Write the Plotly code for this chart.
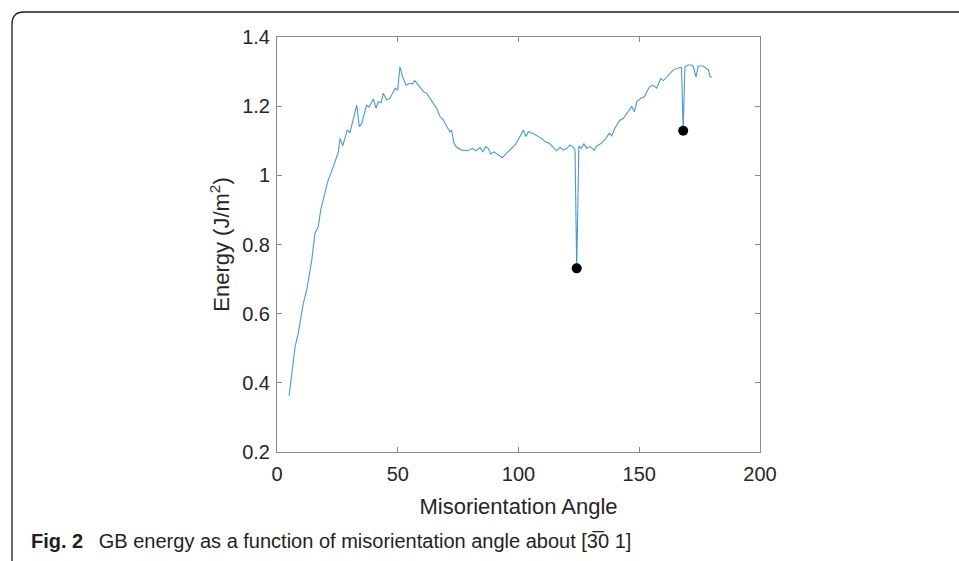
import plotly.graph_objects as go

# Data
angle = [5.0, 7.5, 8.8, 10.9, 12.3, 14.4, 15.7, 17.1, 18.1, 19.2, 21.2, 23.3, 25.4, 26.1, 27.2,
         29.1, 30.2, 33.0, 34.1, 35.1, 37.1, 38.1, 39.9, 41.0, 41.9, 43.1, 44.0, 45.4, 46.8,
         48.9, 50.0, 50.9, 52.0, 53.4, 55.1, 56.0, 57.1, 58.5, 60.6, 62.0, 64.7, 66.1, 67.5,
         68.9, 70.3, 71.6, 72.3, 73.3, 74.4, 76.5, 79.2, 81.0, 82.4, 84.1, 85.2, 86.5, 87.5,
         88.5, 89.9, 91.6, 93.3, 95.1, 98.6, 100.6, 102.0, 103.1, 104.1, 106.2, 108.2, 109.6,
         111.0, 112.8, 114.4, 115.8, 117.2, 118.6, 120.0, 121.3, 122.7, 123.4, 124.1, 125.0,
         125.9, 127.1, 128.2, 129.6, 131.3, 132.4, 134.4, 136.2, 137.6, 138.6, 139.9, 141.8,
         143.4, 144.8, 146.9, 148.0, 149.0, 150.7, 152.1, 154.2, 155.6, 157.2, 158.9, 160.0,
         162.0, 164.1, 166.9, 167.5, 168.2, 168.9, 170.3, 171.7, 172.4, 173.5, 174.4, 176.5,
         178.6, 179.3, 180.2]
energy = [0.362, 0.505, 0.543, 0.630, 0.668, 0.755, 0.832, 0.852, 0.900, 0.929, 0.987, 1.025,
          1.068, 1.107, 1.085, 1.131, 1.123, 1.203, 1.141, 1.150, 1.203, 1.197, 1.221, 1.194,
          1.213, 1.210, 1.237, 1.218, 1.223, 1.252, 1.247, 1.314, 1.285, 1.261, 1.266, 1.264,
          1.274, 1.261, 1.242, 1.237, 1.208, 1.194, 1.170, 1.160, 1.141, 1.126, 1.131, 1.093,
          1.081, 1.073, 1.071, 1.078, 1.071, 1.080, 1.068, 1.083, 1.078, 1.062, 1.068, 1.059,
          1.051, 1.064, 1.088, 1.112, 1.131, 1.112, 1.126, 1.120, 1.112, 1.107, 1.097, 1.093,
          1.081, 1.071, 1.081, 1.073, 1.078, 1.088, 1.081, 1.073, 0.731, 1.085, 1.078, 1.091,
          1.078, 1.083, 1.073, 1.085, 1.093, 1.107, 1.122, 1.114, 1.136, 1.158, 1.165, 1.180,
          1.199, 1.184, 1.213, 1.223, 1.227, 1.256, 1.261, 1.252, 1.280, 1.274, 1.290, 1.305,
          1.312, 1.312, 1.129, 1.314, 1.319, 1.319, 1.314, 1.284, 1.316, 1.316, 1.305, 1.285,
          1.284]
min_angle = [124.1, 168.2]
min_energy = [0.731, 1.129]

x_ticks = [0, 50, 100, 150, 200]
y_ticks = [0.2, 0.4, 0.6, 0.8, 1.0, 1.2, 1.4]
y_labels = ["0.2", "0.4", "0.6", "0.8", "1", "1.2", "1.4"]

W, H = 959, 561
L, R, T, B = 277, 760, 37, 452

def px(xp):
    return (xp - L) / (R - L)

def py(yp):
    return (B - yp) / (B - T)

fig = go.Figure()
fig.add_trace(go.Scatter(x=angle, y=energy, mode="lines",
                         line=dict(color="#4a98d6", width=1.1), showlegend=False))
fig.add_trace(go.Scatter(x=min_angle, y=min_energy, mode="markers",
                         marker=dict(color="black", size=10), showlegend=False))

axis_common = dict(showgrid=False, zeroline=False, showline=True, linecolor="#8a8a8a",
                   linewidth=1, mirror="ticks", ticks="inside", ticklen=5, tickcolor="#8a8a8a",
                   tickfont=dict(family="Liberation Sans, Arial", size=20, color="#262626"))

fig.update_xaxes(range=[0, 200], tickvals=x_ticks, ticktext=[str(v) for v in x_ticks],
                 ticklabelstandoff=4,
                 title=dict(text="Misorientation Angle", standoff=14,
                            font=dict(family="Liberation Sans, Arial", size=22, color="#262626")),
                 **axis_common)
fig.update_yaxes(range=[0.2, 1.4], tickvals=y_ticks, ticktext=y_labels,
                 ticklabelstandoff=2,
                 title=dict(text="Energy (J/m<sup>2</sup>)", standoff=6,
                            font=dict(family="Liberation Sans, Arial", size=22, color="#262626")),
                 **axis_common)

# Figure frame (rounded top-left corner)
r = 12
path = (f"M {px(12)} {py(H + 5)} L {px(12)} {py(12 + r)} "
        f"Q {px(12)} {py(12)} {px(12 + r)} {py(12)} L {px(W + 5)} {py(12)}")
fig.add_shape(type="path", xref="paper", yref="paper", path=path,
              line=dict(color="#1a1a1a", width=1.3), layer="above")

fig.add_annotation(xref="paper", yref="paper", x=px(29), y=py(541), xanchor="left",
                   yanchor="middle", showarrow=False,
                   text="<b>Fig. 2</b>\u2002 GB energy as a function of misorientation angle about [3\u03050 1]",
                   font=dict(family="Liberation Sans, Arial", size=20, color="#231f20"))

fig.update_layout(width=W, height=H, margin=dict(l=L, r=W - R, t=T, b=H - B),
                  plot_bgcolor="white", paper_bgcolor="white")

fig.write_html("out.html")
